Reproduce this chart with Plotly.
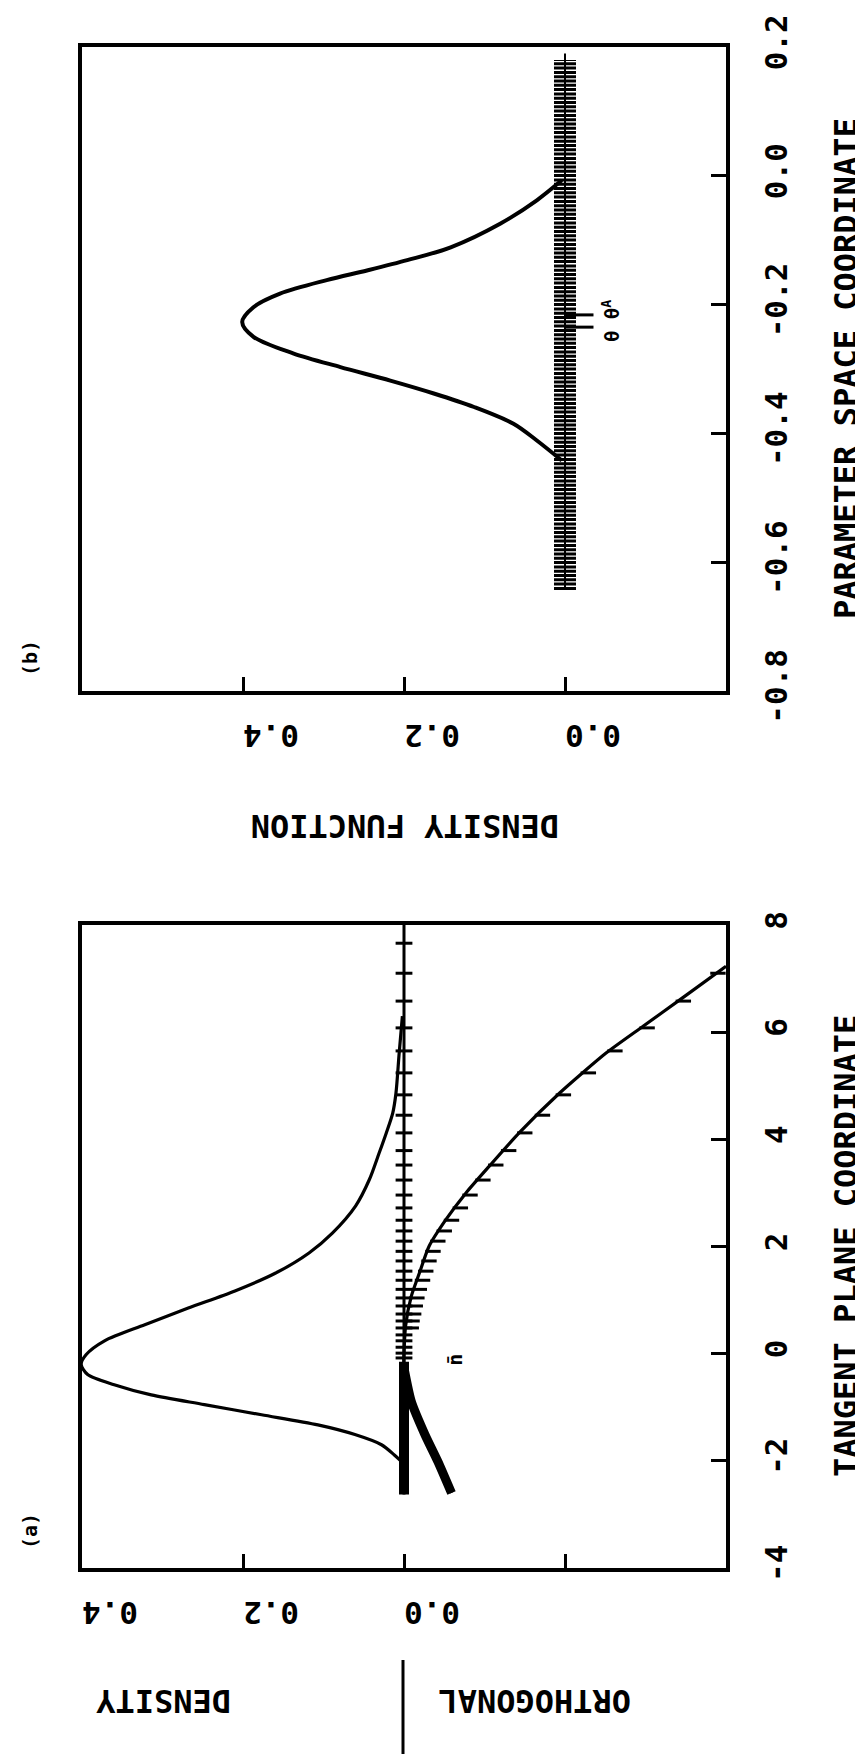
import plotly.graph_objects as go

# ---------------- Panel (b): parameter space ----------------
b_param = [-0.007, -0.038, -0.074, -0.111, -0.131, -0.147, -0.162, -0.183, -0.204,
           -0.227, -0.250, -0.276, -0.297, -0.318, -0.338, -0.359, -0.385, -0.411, -0.442]
b_density = [0.004, 0.035, 0.080, 0.142, 0.196, 0.246, 0.296, 0.354, 0.387,
             0.401, 0.387, 0.337, 0.279, 0.217, 0.163, 0.113, 0.064, 0.035, 0.004]
b_rug_range = [-0.643, 0.180]      # extent of the hatched grid band
b_axis_line = [-0.643, 0.190]
theta_marks = [-0.216, -0.235]     # theta and theta^A marks

b_param_ticks = [-0.8, -0.6, -0.4, -0.2, 0.0, 0.2]
b_param_labels = ["-0.8", "-0.6", "-0.4", "-0.2", "0.0", "0.2"]
b_dens_ticks = [0.4, 0.2, 0.0]
b_dens_labels = ["0.4", "0.2", "0.0"]

# ---------------- Panel (a): tangent plane ----------------
a_t_dens = [6.30, 5.61, 4.86, 4.49, 4.12, 3.74, 3.25, 2.76, 2.25, 1.88, 1.50, 1.17, 0.85,
            0.54, 0.24, -0.02, -0.20, -0.39, -0.58, -0.77, -0.95, -1.14, -1.33, -1.51,
            -1.70, -1.89, -2.00]
a_dens = [0.002, 0.006, 0.010, 0.014, 0.022, 0.031, 0.043, 0.060, 0.089, 0.118, 0.160,
          0.210, 0.268, 0.322, 0.372, 0.395, 0.401, 0.393, 0.360, 0.314, 0.248, 0.177,
          0.107, 0.061, 0.028, 0.012, 0.004]

a_t_orth = [7.23, 6.64, 6.11, 5.61, 4.86, 4.12, 3.50, 3.00, 2.50, 2.00, 1.50, 1.07, 0.52,
            -0.27, -0.89, -1.51, -2.01, -2.60]
a_orth = [-0.400, -0.346, -0.297, -0.251, -0.193, -0.143, -0.106, -0.077, -0.052, -0.031,
          -0.019, -0.009, -0.002, 0.000, -0.009, -0.026, -0.042, -0.059]
a_t_orth_dense = [-0.27, -0.89, -1.51, -2.01, -2.60]
a_orth_dense = [0.000, -0.009, -0.026, -0.042, -0.059]

a_t_marks = [7.66, 7.10, 6.58, 6.08, 5.65, 5.24, 4.83, 4.45, 4.12, 3.79, 3.52, 3.24, 2.96,
             2.72, 2.49, 2.29, 2.10, 1.91, 1.73, 1.54, 1.37, 1.20, 1.04, 0.89, 0.74, 0.61,
             0.48, 0.35, 0.24, 0.12, 0.01, -0.08]
a_t_orth_marks = [7.10, 6.58, 6.08, 5.65, 5.24, 4.83, 4.45, 4.12, 3.79, 3.52, 3.24, 2.96,
                  2.72, 2.49, 2.29, 2.10, 1.91, 1.73, 1.54, 1.37, 1.20, 1.04, 0.89, 0.74,
                  0.61, 0.48]
a_orth_marks = [-0.383, -0.340, -0.295, -0.255, -0.222, -0.191, -0.165, -0.143, -0.123,
                -0.107, -0.091, -0.075, -0.063, -0.052, -0.043, -0.035, -0.029, -0.024,
                -0.020, -0.016, -0.012, -0.009, -0.007, -0.005, -0.003, -0.002]
a_zero_range = [-2.63, 8.0]
a_zero_dense = [-2.63, -0.15]

a_param_ticks = [-4, -2, 0, 2, 4, 6, 8]
a_param_labels = ["-4", "-2", "0", "2", "4", "6", "8"]
a_dens_ticks = [0.4, 0.2, 0.0]
a_dens_labels = ["0.4", "0.2", "0.0"]
a_dens_unlabeled_ticks = [-0.2]

# ---------------- layout helpers ----------------
W, H = 863, 1754
FONT = "DejaVu Sans Mono"
K = "black"


def px(x):
    return x / W


def py(y):
    return 1 - y / H


fig = go.Figure()

# ---- panel (b) traces ----
fig.add_trace(go.Scatter(x=[0, 0], y=b_axis_line, mode="lines",
                         line=dict(color=K, width=2), xaxis="x", yaxis="y"))
fig.add_trace(go.Scatter(x=[0, 0], y=b_rug_range, mode="lines",
                         line=dict(color=K, width=22, dash="3px,1.3px"),
                         xaxis="x", yaxis="y"))
fig.add_trace(go.Scatter(x=b_density, y=b_param, mode="lines",
                         line=dict(color=K, width=4, shape="spline", smoothing=0.9),
                         xaxis="x", yaxis="y"))
fig.add_trace(go.Scatter(x=[-0.018] * len(theta_marks), y=theta_marks, mode="markers",
                         marker=dict(symbol="line-ew", size=20,
                                     line=dict(color=K, width=3)),
                         xaxis="x", yaxis="y"))

# ---- panel (a) traces ----
fig.add_trace(go.Scatter(x=[0, 0], y=a_zero_range, mode="lines",
                         line=dict(color=K, width=3), xaxis="x2", yaxis="y2"))
fig.add_trace(go.Scatter(x=[0, 0], y=a_zero_dense, mode="lines",
                         line=dict(color=K, width=10), xaxis="x2", yaxis="y2"))
fig.add_trace(go.Scatter(x=[0] * len(a_t_marks), y=a_t_marks, mode="markers",
                         marker=dict(symbol="line-ew", size=12,
                                     line=dict(color=K, width=3)),
                         xaxis="x2", yaxis="y2"))
fig.add_trace(go.Scatter(x=a_orth, y=a_t_orth, mode="lines",
                         line=dict(color=K, width=3.2, shape="spline", smoothing=0.6),
                         xaxis="x2", yaxis="y2"))
fig.add_trace(go.Scatter(x=a_orth_dense, y=a_t_orth_dense, mode="lines",
                         line=dict(color=K, width=9, shape="spline", smoothing=0.6),
                         xaxis="x2", yaxis="y2"))
fig.add_trace(go.Scatter(x=[d - 0.007 for d in a_orth_marks], y=a_t_orth_marks,
                         mode="markers",
                         marker=dict(symbol="line-ew", size=11,
                                     line=dict(color=K, width=3)),
                         xaxis="x2", yaxis="y2"))
fig.add_trace(go.Scatter(x=a_dens, y=a_t_dens, mode="lines",
                         line=dict(color=K, width=3.2, shape="spline", smoothing=0.8),
                         xaxis="x2", yaxis="y2"))

xdom = [px(74), px(718)]
tickfont = dict(family=FONT, size=31, color=K, weight="bold")


def dens_axis(rng, tv, tt, anchor, minor_vals=None):
    ax = dict(domain=xdom, range=rng, anchor=anchor, automargin=False,
              showgrid=False, zeroline=False,
              showline=True, mirror=True, linecolor=K, linewidth=3.5,
              ticks="inside", ticklen=14, tickwidth=2.5, tickcolor=K,
              tickvals=tv, ticktext=tt, tickangle=180, tickfont=tickfont,
              ticklabelstandoff=24)
    if minor_vals:
        ax["minor"] = dict(tickmode="array", tickvals=minor_vals, ticks="inside",
                           ticklen=14, tickwidth=2.5, tickcolor=K, showgrid=False)
    return ax


def param_axis(dom, rng, tv, tt, anchor):
    return dict(domain=dom, range=rng, anchor=anchor, side="right", automargin=False,
                showgrid=False, zeroline=False, showline=True, mirror=True,
                linecolor=K, linewidth=3.5,
                ticks="inside", ticklen=15, tickwidth=2.5, tickcolor=K,
                tickvals=tv, ticktext=tt, tickangle=-90, tickfont=tickfont,
                ticklabelstandoff=20)


ann_font = dict(family=FONT, size=32, color=K, weight="bold")
small_font = dict(family=FONT, size=20, color=K, weight="bold")

annotations = [
    dict(text="(b)", x=px(22), y=py(650), textangle=-90, font=small_font),
    dict(text="(a)", x=px(22), y=py(1523), textangle=-90, font=small_font),
    dict(text="PARAMETER SPACE COORDINATE", x=px(838), y=py(361), textangle=-90,
         font=ann_font),
    dict(text="TANGENT PLANE COORDINATE", x=px(838), y=py(1238), textangle=-90,
         font=ann_font),
    dict(text="DENSITY FUNCTION", x=px(397), y=py(818), textangle=180, font=ann_font),
    dict(text="DENSITY", x=px(155), y=py(1693), textangle=180, font=ann_font),
    dict(text="ORTHOGONAL", x=px(527), y=py(1693), textangle=180, font=ann_font),
]
for a in annotations:
    a.update(xref="paper", yref="paper", showarrow=False, xanchor="center",
             yanchor="middle")
annotations += [
    dict(text="\u03b8 \u03b8<sup>A</sup>", x=-0.058, y=-0.226, xref="x", yref="y",
         textangle=-90, showarrow=False,
         font=dict(family=FONT, size=19, color=K, weight="bold")),
    dict(text="n\u0304", x=-0.063, y=-0.12, xref="x2", yref="y2",
         textangle=-90, showarrow=False,
         font=dict(family=FONT, size=20, color=K, weight="bold")),
]

fig.update_layout(
    width=W, height=H, autosize=False, showlegend=False,
    margin=dict(l=0, r=0, t=0, b=0, pad=0),
    paper_bgcolor="white", plot_bgcolor="white",
    xaxis=dens_axis([0.6, -0.2], b_dens_ticks, b_dens_labels, "y"),
    yaxis=param_axis([py(683), py(39)], [-0.8, 0.2], b_param_ticks, b_param_labels, "x"),
    xaxis2=dens_axis([0.4, -0.4], a_dens_ticks, a_dens_labels, "y2",
                     a_dens_unlabeled_ticks),
    yaxis2=param_axis([py(1560), py(917)], [-4, 8], a_param_ticks, a_param_labels, "x2"),
    annotations=annotations,
    shapes=[dict(type="line", xref="paper", yref="paper", x0=px(395), x1=px(395),
                 y0=py(1652), y1=0, line=dict(color=K, width=3))],
)

fig.write_html("out.html")
